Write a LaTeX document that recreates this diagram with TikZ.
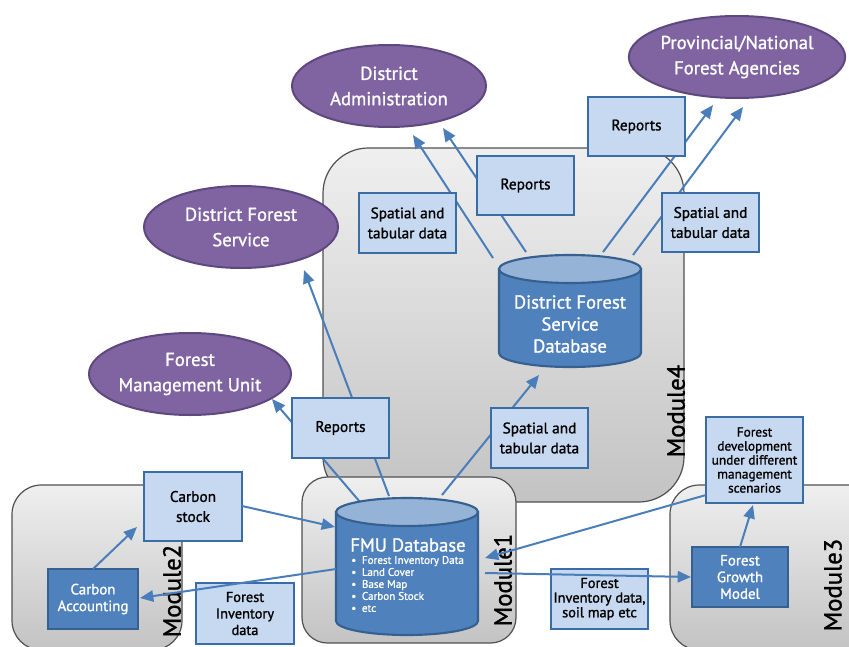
\documentclass[tikz,border=0pt]{standalone}
\usepackage{fontspec}
\setmainfont{PT Sans}[RawFeature={embolden=1.2}]
\usetikzlibrary{shapes.geometric,arrows.meta}
\definecolor{purp}{HTML}{8064A2}
\definecolor{purpd}{HTML}{5E4880}
\definecolor{lbfill}{HTML}{C6D9F1}
\definecolor{lbdraw}{HTML}{3A6DA6}
\definecolor{dbfill}{HTML}{4F81BD}
\definecolor{dbdraw}{HTML}{36608F}
\definecolor{cyltopc}{HTML}{95B3D7}
\definecolor{arr}{HTML}{4A7EBB}
\definecolor{modtop}{HTML}{EFEFEF}
\definecolor{modbot}{HTML}{C3C3C3}
\definecolor{moddraw}{HTML}{505050}
\newcommand\fmuitem[1]{\makebox[8pt][l]{\textbullet}#1}
\begin{document}
\begin{tikzpicture}[x=0.75pt,y=-0.75pt,
 module/.style={draw=moddraw,line width=0.9pt,top color=modtop,bottom color=modbot},
 modlabel/.style={rotate=90,font=\fontsize{18.5}{18.5}\selectfont,inner sep=0pt},
 lbox/.style={draw=lbdraw,fill=lbfill,line width=1.8pt,align=center,inner sep=1pt,minimum width=72.75pt,font=\fontsize{11.5}{15}\selectfont},
 dbox/.style={draw=dbdraw,fill=dbfill,line width=1.8pt,align=center,inner sep=1pt,text=white,font=\fontsize{11.2}{12.5}\selectfont},
 agency/.style={ellipse,draw=purpd,fill=purp,line width=1.5pt,text=white,align=center,inner sep=0pt,minimum width=145.5pt,minimum height=61.5pt,font=\fontsize{14}{19}\selectfont},
 conn/.style={draw=arr,line width=1.5pt,-{Triangle[length=10pt,width=8.5pt]}},
 cylbody/.style={draw=dbdraw,fill=dbfill,line width=1.6pt},
 cyltop/.style={draw=dbdraw,fill=cyltopc,line width=1.6pt},
 cyltext/.style={text=white,align=center,inner sep=0pt},
]
\useasboundingbox (0,0) rectangle (849,646);
\clip (0,0) rectangle (849,646);
\fill[white] (0,0) rectangle (849,646);

% modules
\path[module,rounded corners=34pt] (323,148) rectangle (684,502);
\path[module,rounded corners=19pt] (302,477) rectangle (516,643);
\path[module,rounded corners=22pt] (12,485) rectangle (182,650);
\path[module,rounded corners=22pt] (670,485) rectangle (880,650);
\node[modlabel] (m4) at (676,411) {Module4};
\node[modlabel] (m1) at (503,580) {Module1};
\node[modlabel] (m2) at (172,591) {Module2};
\node[modlabel] (m3) at (833,585) {Module3};

% connection points
\coordinate (p1s) at (360,502); \coordinate (p1e) at (272,399);
\coordinate (p2s) at (389,496); \coordinate (p2e) at (304,270);
\coordinate (p3s) at (442,495); \coordinate (p3e) at (539,375);
\coordinate (p4s) at (242,506); \coordinate (p4e) at (335,527);
\coordinate (p5s) at (336,569); \coordinate (p5e) at (140,598);
\coordinate (p6s) at (93,569);  \coordinate (p6e) at (137,527);
\coordinate (p7s) at (706,495); \coordinate (p7e) at (485,558);
\coordinate (p8s) at (485,573); \coordinate (p8e) at (691,577);
\coordinate (p9s) at (740,547); \coordinate (p9e) at (753,505);
\coordinate (p10s) at (493,258); \coordinate (p10e) at (413,135);
\coordinate (p11s) at (526,252); \coordinate (p11e) at (443,128);
\coordinate (p12s) at (603,252); \coordinate (p12e) at (713,105);
\coordinate (p13s) at (633,255); \coordinate (p13e) at (743,107);

% connectors behind boxes
\draw[conn] (p1s) -- (p1e);
\draw[conn] (p2s) -- (p2e);
\draw[conn] (p3s) -- (p3e);
\draw[conn] (p10s) -- (p10e);
\draw[conn] (p11s) -- (p11e);
\draw[conn] (p12s) -- (p12e);
\draw[conn] (p13s) -- (p13e);

% light boxes
\node[lbox,minimum height=44.25pt] (rtop) at (636.5,126.5) {Reports};
\node[lbox,minimum height=44.25pt] (rmid) at (525.5,185.5) {Reports};
\node[lbox,minimum height=45pt] (sleft) at (407.5,223) {Spatial and\\tabular data};
\node[lbox,minimum height=44.25pt] (sright) at (710.5,222.5) {Spatial and\\tabular data};
\node[lbox,minimum height=45pt] (rlow) at (340.5,428) {Reports};
\node[lbox,minimum height=45pt] (slow) at (539.5,438) {Spatial and\\tabular data};
\node[lbox,minimum width=73.5pt,minimum height=51.75pt] (cstock) at (193,506.5) {Carbon\\stock};
\node[lbox,minimum width=73.5pt,minimum height=45.75pt,font=\fontsize{10.8}{12.4}\selectfont] (finv) at (245,613.5) {Forest\\Inventory\\data};
\node[lbox,minimum height=45pt,font=\fontsize{10.8}{11}\selectfont] (finv2) at (599.5,599) {Forest\\Inventory data,\\soil map etc};
\node[lbox,minimum height=64.5pt,font=\fontsize{10}{10.5}\selectfont] (fdev) at (754.5,460) {Forest\\development\\under different\\management\\scenarios};

% dark boxes
\node[dbox,minimum width=67.5pt,minimum height=45pt] (cacc) at (93,599) {Carbon\\Accounting};
\node[dbox,minimum width=72pt,minimum height=45pt] (fgm) at (740,577) {Forest\\Growth\\Model};

% agencies
\node[agency] (da) at (389,86) {District\\Administration};
\node[agency] (dfs) at (241,227) {District Forest\\Service};
\node[agency] (fmu) at (190,374) {Forest\\Management Unit};
\node[agency] (pna) at (737,57) {Provincial/National\\Forest Agencies};

% District Forest Service Database cylinder
\path[cylbody] (499,269) -- (499,353) arc[start angle=180,end angle=0,x radius=71,y radius=14] -- (641,269) -- cycle;
\path[cyltop] (570,269) ellipse[x radius=71,y radius=14];
\node[cyltext,font=\fontsize{14}{16.5}\selectfont] (dfsdb) at (570,324) {District Forest\\Service\\Database};

% FMU Database cylinder
\path[cylbody] (336,512) -- (336,621) arc[start angle=180,end angle=0,x radius=71,y radius=14] -- (478,512) -- cycle;
\path[cyltop] (407,512) ellipse[x radius=71,y radius=14];
\node[cyltext,font=\fontsize{14}{14}\selectfont] (fmudb) at (408,545) {FMU Database};
\node[cyltext,align=left,anchor=west,font=\fontsize{8.3}{9}\selectfont] (fmulist) at (351,584)
 {\fmuitem{Forest Inventory Data}\\\fmuitem{Land Cover}\\\fmuitem{Base Map}\\\fmuitem{Carbon Stock}\\\fmuitem{etc}};

% connectors on top
\draw[conn] (p4s) -- (p4e);
\draw[conn] (p5s) -- (p5e);
\draw[conn] (p6s) -- (p6e);
\draw[conn] (p7s) -- (p7e);
\draw[conn] (p8s) -- (p8e);
\draw[conn] (p9s) -- (p9e);
\end{tikzpicture}
\end{document}
